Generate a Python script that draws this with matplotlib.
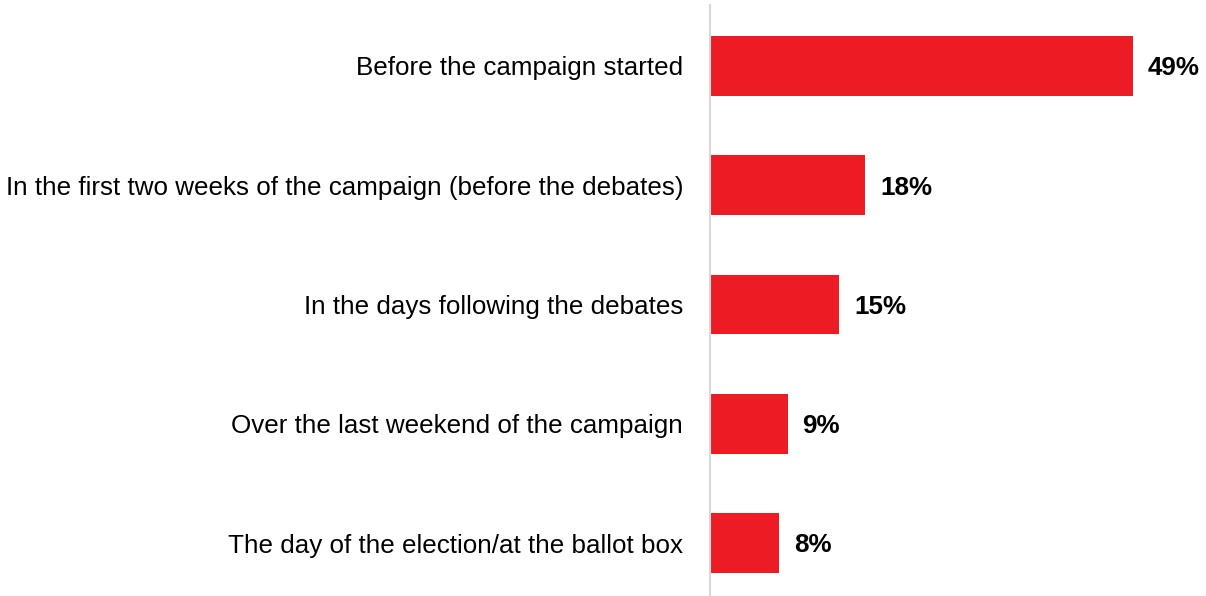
import matplotlib.pyplot as plt
import numpy as np

# --- Data ---
categories = [
    "Before the campaign started",
    "In the first two weeks of the campaign (before the debates)",
    "In the days following the debates",
    "Over the last weekend of the campaign",
    "The day of the election/at the ballot box",
]
values = [49, 18, 15, 9, 8]

plt.rcParams["font.family"] = ["Liberation Sans", "DejaVu Sans"]

fig = plt.figure(figsize=(12.06, 5.96), dpi=100)
ax = fig.add_axes([710 / 1206, 0.0, (1206 - 710) / 1206, 591 / 596])

y_pos = np.arange(len(categories))
ax.barh(y_pos, values, height=0.5, color="#ED1C24")

for y, v in zip(y_pos, values):
    ax.text(v + 1.7, y + 0.02, f"{v}%", va="center", ha="left",
            fontsize=18.7, fontweight="bold", color="#000000")

ax.set_yticks(y_pos)
ax.set_yticklabels(categories, fontsize=18.7, color="#000000")
ax.tick_params(axis="y", length=0, pad=19.4)
ax.set_xticks([])
ax.set_xlim(0, 57.5)
ax.set_ylim(4.444, -0.511)

for s in ["top", "right", "bottom"]:
    ax.spines[s].set_visible(False)
ax.spines["left"].set_color("#D9D9D9")
ax.spines["left"].set_linewidth(1.5)

fig.savefig("out.png", dpi=100, facecolor="white")
